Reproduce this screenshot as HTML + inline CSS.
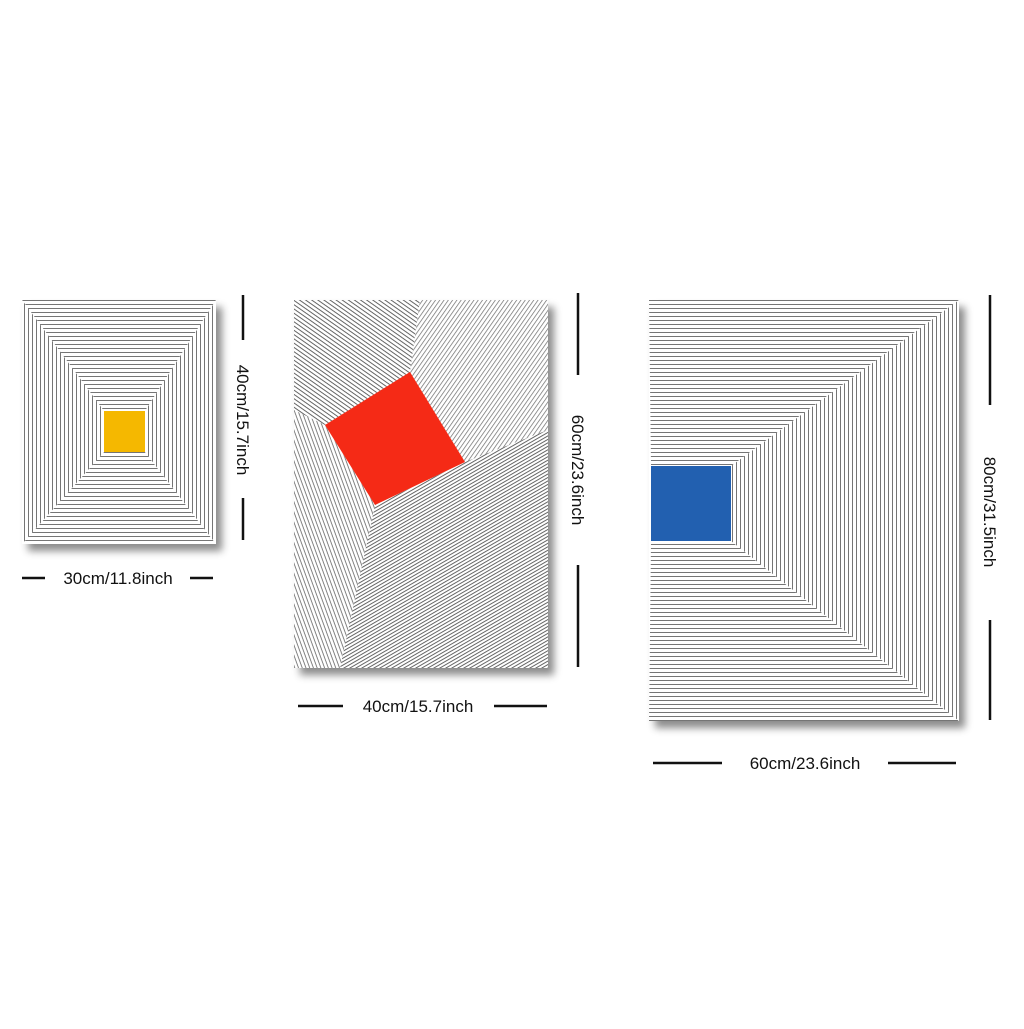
<!DOCTYPE html>
<html><head><meta charset="utf-8"><style>
body{margin:0;background:#fff;width:1024px;height:1024px;overflow:hidden}
svg text{font-family:"Liberation Sans",sans-serif;font-size:17px;fill:#111}
</style></head><body>
<svg width="1024" height="1024" viewBox="0 0 1024 1024">
<defs>
<filter id="sh" x="-10%" y="-10%" width="130%" height="130%"><feDropShadow dx="6" dy="7" stdDeviation="4" flood-color="#000" flood-opacity="0.45"/></filter>
<pattern id="ph" width="6" height="4" patternUnits="userSpaceOnUse"><rect width="6" height="4" fill="#fff"/><rect y="0" width="6" height="0.9" fill="#666"/></pattern>
<pattern id="pv" width="4" height="6" patternUnits="userSpaceOnUse"><rect width="4" height="6" fill="#fff"/><rect x="0" width="0.9" height="6" fill="#666"/></pattern>
<pattern id="d1" width="3.5" height="3.5" patternUnits="userSpaceOnUse" patternTransform="rotate(35)"><rect width="4" height="4" fill="#fff"/><rect width="4" height="0.9" fill="#555"/></pattern>
<pattern id="d2" width="3.5" height="3.5" patternUnits="userSpaceOnUse" patternTransform="rotate(-55)"><rect width="4" height="4" fill="#fff"/><rect width="4" height="0.7" fill="#6a6a6a"/></pattern>
<pattern id="d3" width="3" height="3" patternUnits="userSpaceOnUse" patternTransform="rotate(-30)"><rect width="3" height="3" fill="#fff"/><rect width="3" height="0.9" fill="#555"/></pattern>
<pattern id="d4" width="3.5" height="3.5" patternUnits="userSpaceOnUse" patternTransform="rotate(70)"><rect width="4" height="4" fill="#fff"/><rect width="4" height="0.8" fill="#666"/></pattern>
</defs>

<g filter="url(#sh)">
<rect x="22" y="300" width="194" height="244" fill="#fff"/>
<polygon points="22,300 216,300 145,411 104,411" fill="url(#ph)"/>
<polygon points="22,544 216,544 145,452 104,452" fill="url(#ph)"/>
<polygon points="22,300 104,411 104,452 22,544" fill="url(#pv)"/>
<polygon points="216,300 145,411 145,452 216,544" fill="url(#pv)"/>
<rect x="104" y="411" width="41" height="41" fill="#f5b800"/>
</g>

<g filter="url(#sh)">
<rect x="294" y="300" width="254" height="368" fill="#fff"/>
<polygon points="294,300 420,300 410,372 325,425 294,410" fill="url(#d1)"/>
<polygon points="420,300 548,300 548,430 465,462 410,372" fill="url(#d2)"/>
<polygon points="375,505 465,462 548,430 548,668 340,668" fill="url(#d3)"/>
<polygon points="294,410 325,425 375,505 340,668 294,668" fill="url(#d4)"/>
<polygon points="325,425 410,372 465,462 375,505" fill="#f52a14"/>
</g>

<g filter="url(#sh)">
<rect x="649" y="300" width="310" height="421" fill="#fff"/>
<polygon points="649,300 959,300 731,466 651,466" fill="url(#ph)"/>
<polygon points="649,721 959,721 731,541 651,541" fill="url(#ph)"/>
<polygon points="959,300 731,466 731,541 959,721" fill="url(#pv)"/>
<rect x="651" y="466" width="80" height="75" fill="#2060b0"/>
</g>

<g stroke="#111" stroke-width="2.5">
<line x1="243" y1="295" x2="243" y2="340"/><line x1="243" y1="498" x2="243" y2="540"/>
<line x1="22" y1="578" x2="45" y2="578"/><line x1="190" y1="578" x2="213" y2="578"/>
<line x1="578" y1="293" x2="578" y2="375"/><line x1="578" y1="565" x2="578" y2="667"/>
<line x1="298" y1="706" x2="343" y2="706"/><line x1="494" y1="706" x2="547" y2="706"/>
<line x1="990" y1="295" x2="990" y2="405"/><line x1="990" y1="620" x2="990" y2="720"/>
<line x1="653" y1="763" x2="722" y2="763"/><line x1="888" y1="763" x2="956" y2="763"/>
</g>
<text x="118" y="584" text-anchor="middle">30cm/11.8inch</text>
<text transform="translate(237,420) rotate(90)" text-anchor="middle">40cm/15.7inch</text>
<text x="418" y="712" text-anchor="middle">40cm/15.7inch</text>
<text transform="translate(572,470) rotate(90)" text-anchor="middle">60cm/23.6inch</text>
<text x="805" y="769" text-anchor="middle">60cm/23.6inch</text>
<text transform="translate(984,512) rotate(90)" text-anchor="middle">80cm/31.5inch</text>
</svg>
</body></html>
